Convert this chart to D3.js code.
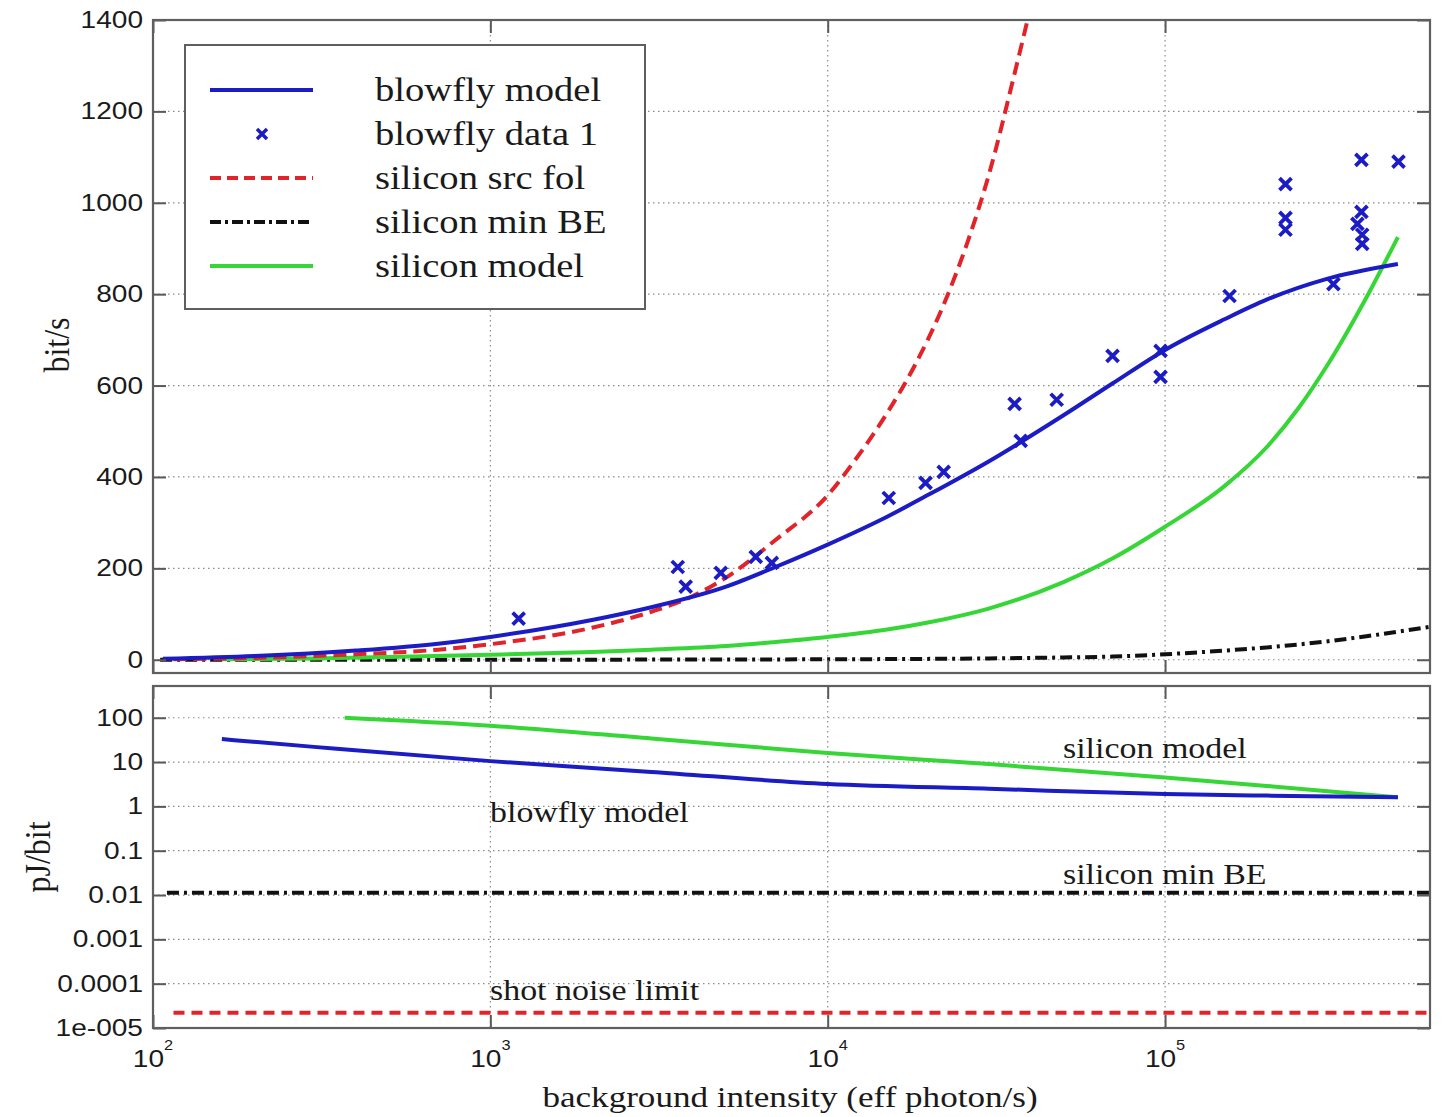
<!DOCTYPE html>
<html>
<head>
<meta charset="utf-8">
<script src="https://cdn.jsdelivr.net/npm/d3@7"></script>
<style>
  body { margin: 0; background: #fff; }
  svg { display: block; }
  .serif { font-family: "Liberation Serif", "Times New Roman", serif; fill: #1a1a1a; }
  .sans { font-family: "Liberation Sans", Arial, sans-serif; fill: #1a1a1a; }
</style>
</head>
<body>
<div id="chart"></div>
<script>
// ---- values ----
// top panel: information rate (bit/s)
var flyModelX    = [107, 200, 400, 700, 1000, 2000, 3000, 5000, 7000, 10000, 15000, 20000, 30000, 50000, 70000, 100000, 150000, 200000, 300000, 490000];
var flyModelRate = [2, 8, 20, 35, 50, 87, 115, 160, 203, 252, 313, 362, 434, 535, 605, 678, 745, 788, 833, 866];

var flyDataX    = [1213, 3594, 3793, 4820, 6120, 6830, 15170, 19500, 22070, 35810, 37330, 47720, 69870, 96970, 96970, 155300, 227500, 227500, 227500, 315500, 382000, 382000, 371600, 384000, 384000, 492000];
var flyDataRate = [90, 203, 160, 190, 225, 212, 354, 387, 411, 560, 479, 569, 665, 676, 619, 796, 1041, 967, 941, 822, 1094, 980, 954, 930, 910, 1090];

var srcFolX    = [115, 200, 400, 700, 1000, 2000, 3000, 4000, 5000, 7000, 10000, 12000, 15000, 18000, 22000, 26000, 30000, 36000, 40000];
var srcFolRate = [1, 4, 12, 22, 34, 70, 105, 140, 180, 262, 360, 435, 540, 640, 775, 915, 1060, 1290, 1430];

var minBEX    = [105, 1000, 10000, 30000, 50000, 70000, 100000, 150000, 200000, 300000, 400000, 610000];
var minBERate = [0, 0.1, 1, 3, 5, 7, 12, 20, 27, 40, 52, 72];

var siModelX    = [160, 300, 500, 1000, 2000, 3000, 5000, 7000, 10000, 15000, 20000, 30000, 50000, 70000, 100000, 150000, 200000, 250000, 300000, 400000, 490000];
var siModelRate = [1, 3, 6, 11, 17, 22, 30, 39, 50, 66, 82, 112, 170, 222, 291, 380, 465, 553, 640, 800, 925];

// bottom panel: energy per bit (pJ/bit)
var flyEnergyX = [160, 300, 1000, 3000, 10000, 30000, 100000, 200000, 490000];
var flyEnergy  = [33, 22, 10.5, 6, 3.2, 2.5, 1.9, 1.75, 1.6];
var siEnergyX  = [370, 1000, 3000, 10000, 30000, 100000, 200000, 490000];
var siEnergy   = [100, 66, 34, 16, 9, 4.5, 2.9, 1.6];
var minBEEnergyX = [110, 610000];
var minBEEnergy  = [0.0112, 0.0112];
var shotX      = [115, 610000];
var shotEnergy = [2.2e-5, 2.2e-5];

// ticks and labels
var xTicks = [1e2, 1e3, 1e4, 1e5];
var xTickExp = ["2", "3", "4", "5"];
var rateTicks = [0, 200, 400, 600, 800, 1000, 1200, 1400];
var energyTicks = [100, 10, 1, 0.1, 0.01, 0.001, 0.0001, 1e-5];
var energyTickLabels = ["100", "10", "1", "0.1", "0.01", "0.001", "0.0001", "1e-005"];
var legendNames = ["blowfly model", "blowfly data 1", "silicon src fol", "silicon min BE", "silicon model"];

// ---- layout ----
var svgWidth = 1443, svgHeight = 1117;
var left = 153, right = 1430;
var top1 = 20, bot1 = 673, top2 = 686, bot2 = 1028;
var stretch = 1.17;   // the figure is slightly wider than tall glyphs suggest

var BLUE = "#1c1cc4", RED = "#e0242a", GREEN = "#36d636", BLACK = "#111";

var svg = d3.select("#chart").append("svg")
  .attr("width", svgWidth)
  .attr("height", svgHeight);

var x = d3.scaleLog().domain([100, 6.1e5]).range([left, right]);
var yRate = d3.scaleLinear().domain([-29, 1400]).range([bot1, top1]);
var yEnergy = d3.scaleLog().domain([1e-5, 520]).range([bot2, top2]);

// clip paths
var defs = svg.append("defs");
defs.append("clipPath").attr("id", "clip1").append("rect")
  .attr("x", left).attr("y", top1).attr("width", right - left).attr("height", bot1 - top1);
defs.append("clipPath").attr("id", "clip2").append("rect")
  .attr("x", left).attr("y", top2).attr("width", right - left).attr("height", bot2 - top2);

function label(g, px, py, txt, cls, size, anchor) {
  return g.append("text")
    .attr("class", cls)
    .attr("transform", `translate(${px},${py}) scale(${stretch},1)`)
    .attr("text-anchor", anchor || "start")
    .style("font-size", size + "px")
    .text(txt);
}

function panel(y, ticks, yTop, yBot, clipId) {
  var g = svg.append("g");
  // dotted grid
  var grid = g.append("g").attr("stroke", "#8c8c8c").attr("stroke-width", 1.2).attr("stroke-dasharray", "1.5,3.5");
  grid.selectAll(".hg").data(ticks.filter(t => y(t) > yTop + 2 && y(t) < yBot - 2)).enter()
    .append("line")
    .attr("x1", left).attr("x2", right)
    .attr("y1", d => y(d)).attr("y2", d => y(d));
  grid.selectAll(".vg").data(xTicks.slice(1)).enter()
    .append("line")
    .attr("x1", d => x(d)).attr("x2", d => x(d))
    .attr("y1", yTop).attr("y2", yBot);
  var plot = g.append("g").attr("clip-path", `url(#${clipId})`);
  return { g: g, plot: plot };
}

function frame(g, y, ticks, yTop, yBot) {
  // ticks pointing inward on all four sides
  g.append("g").attr("transform", `translate(${left},0)`)
    .call(d3.axisLeft(y).tickValues(ticks).tickSize(-13).tickFormat(""));
  g.append("g").attr("transform", `translate(${right},0)`)
    .call(d3.axisRight(y).tickValues(ticks).tickSize(-13).tickFormat(""));
  g.append("g").attr("transform", `translate(0,${yBot})`)
    .call(d3.axisBottom(x).tickValues(xTicks).tickSize(-13).tickFormat(""));
  g.append("g").attr("transform", `translate(0,${yTop})`)
    .call(d3.axisTop(x).tickValues(xTicks).tickSize(-13).tickFormat(""));
  g.selectAll(".domain").remove();
  g.selectAll(".tick line").attr("stroke", "#5a5a5a").attr("stroke-width", 2);
  g.append("rect")
    .attr("x", left).attr("y", yTop)
    .attr("width", right - left).attr("height", yBot - yTop)
    .attr("fill", "none").attr("stroke", "#5f5f5f").attr("stroke-width", 2.2);
}

function drawLine(plot, xs, ys, y, color, dash, curve) {
  var pts = xs.map((v, i) => [v, ys[i]]);
  plot.append("path")
    .datum(pts)
    .attr("fill", "none")
    .attr("stroke", color)
    .attr("stroke-width", 4)
    .attr("stroke-dasharray", dash || null)
    .attr("stroke-linejoin", "round")
    .attr("d", d3.line().x(d => x(d[0])).y(d => y(d[1])).curve(curve || d3.curveMonotoneX));
}

// ---- top panel ----
var p1 = panel(yRate, rateTicks, top1, bot1, "clip1");
drawLine(p1.plot, minBEX, minBERate, yRate, BLACK, "12,5,3,5");
drawLine(p1.plot, siModelX, siModelRate, yRate, GREEN);
drawLine(p1.plot, srcFolX, srcFolRate, yRate, RED, "13,7");
drawLine(p1.plot, flyModelX, flyModelRate, yRate, BLUE);

var cross = "M-6,-6L6,6M-6,6L6,-6";
p1.plot.selectAll(".marker")
  .data(flyDataX.map((v, i) => [v, flyDataRate[i]]))
  .enter()
  .append("path")
  .attr("transform", d => `translate(${x(d[0])},${yRate(d[1])})`)
  .attr("d", cross)
  .attr("stroke", BLUE)
  .attr("stroke-width", 3.8)
  .attr("fill", "none");

frame(p1.g, yRate, rateTicks, top1, bot1);

rateTicks.forEach(t => label(svg, 143, yRate(t) + 8, String(t), "sans", 24, "end"));

// legend
var lg = svg.append("g");
lg.append("rect")
  .attr("x", 185).attr("y", 45).attr("width", 460).attr("height", 264)
  .attr("fill", "#fff").attr("stroke", "#5f5f5f").attr("stroke-width", 2);
var legendStyle = [
  { color: BLUE, dash: null, marker: false },
  { color: BLUE, dash: null, marker: true },
  { color: RED, dash: "11,6" },
  { color: BLACK, dash: "11,4,3,4" },
  { color: GREEN, dash: null }
];
legendNames.forEach(function(name, i) {
  var cy = 90 + i * 44;
  var s = legendStyle[i];
  if (s.marker) {
    lg.append("path").attr("transform", `translate(262,${cy})`)
      .attr("d", "M-5,-5L5,5M-5,5L5,-5")
      .attr("stroke", BLUE).attr("stroke-width", 3.5).attr("fill", "none");
  } else {
    lg.append("line")
      .attr("x1", 210).attr("x2", 313).attr("y1", cy).attr("y2", cy)
      .attr("stroke", s.color).attr("stroke-width", 4)
      .attr("stroke-dasharray", s.dash);
  }
  label(lg, 375, cy + 11, name, "serif", 33);
});

// ---- bottom panel ----
var p2 = panel(yEnergy, energyTicks, top2, bot2, "clip2");
drawLine(p2.plot, minBEEnergyX, minBEEnergy, yEnergy, BLACK, "12,5,3,5", d3.curveLinear);
drawLine(p2.plot, shotX, shotEnergy, yEnergy, RED, "11,7", d3.curveLinear);
drawLine(p2.plot, siEnergyX, siEnergy, yEnergy, GREEN);
drawLine(p2.plot, flyEnergyX, flyEnergy, yEnergy, BLUE);
frame(p2.g, yEnergy, energyTicks, top2, bot2);

energyTicks.forEach((t, i) => label(svg, 143, yEnergy(t) + 8, energyTickLabels[i], "sans", 24, "end"));

// x tick labels with exponents
xTicks.forEach(function(t, i) {
  var tx = svg.append("text")
    .attr("class", "sans")
    .attr("transform", `translate(${x(t)},1067) scale(${stretch},1)`)
    .attr("text-anchor", "middle")
    .style("font-size", "24px");
  tx.append("tspan").text("10");
  tx.append("tspan").attr("dy", -17).style("font-size", "14px").text(xTickExp[i]);
});

// in-plot annotations
label(svg, 1063, 758, "silicon model", "serif", 29);
label(svg, 490, 822, "blowfly model", "serif", 29);
label(svg, 1063, 884, "silicon min BE", "serif", 29);
label(svg, 490, 1000, "shot noise limit", "serif", 29);

// axis titles
label(svg, 790, 1107, "background intensity (eff photon/s)", "serif", 30, "middle");

svg.append("text")
  .attr("class", "serif")
  .attr("transform", "translate(69,345) rotate(-90) scale(1,1.1)")
  .attr("text-anchor", "middle")
  .style("font-size", "32px")
  .text("bit/s");

svg.append("text")
  .attr("class", "serif")
  .attr("transform", "translate(50,857) rotate(-90) scale(1,1.1)")
  .attr("text-anchor", "middle")
  .style("font-size", "32px")
  .text("pJ/bit");
</script>
</body>
</html>
